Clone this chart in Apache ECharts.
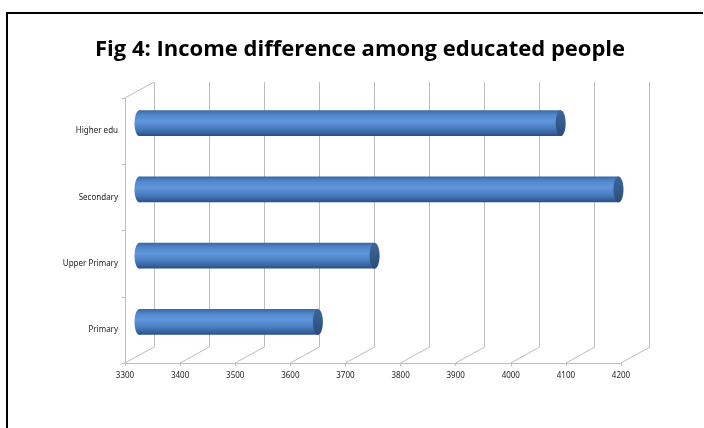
<!DOCTYPE html>
<html>
<head>
<meta charset="utf-8">
<script src="https://cdn.jsdelivr.net/npm/echarts@6/dist/echarts.min.js"></script>
<style>
html,body{margin:0;padding:0;background:#fff;}
#c{width:704px;height:428px;}
</style>
</head>
<body>
<div id="c"></div>
<script>
const titleText = 'Fig 4: Income difference among educated people';
const categories = ['Primary', 'Upper Primary', 'Secondary', 'Higher edu'];
const incomes = [3624, 3727, 4170, 4065];
const xTicks = [3300, 3400, 3500, 3600, 3700, 3800, 3900, 4000, 4100, 4200];
const xMin = 3300, xMax = 4200, xStep = 100;

const DX = 29, DY = -16; // depth offset of the 3D box
const GRID_H = 265;

const chart = echarts.init(document.getElementById('c'), null, {renderer: 'canvas'});

const bodyGrad = () => new echarts.graphic.LinearGradient(0, 0, 0, 1, [
  {offset: 0, color: '#3a67a3'},
  {offset: 0.18, color: '#5086ca'},
  {offset: 0.42, color: '#6097dc'},
  {offset: 0.7, color: '#4a7dc0'},
  {offset: 0.9, color: '#35619b'},
  {offset: 1, color: '#2b4f80'}
]);
const capGrad = () => new echarts.graphic.LinearGradient(0, 0, 0, 1, [
  {offset: 0, color: '#3c6499'},
  {offset: 0.5, color: '#345b8d'},
  {offset: 1, color: '#2a4b78'}
]);

const option = {
  animation: false,
  backgroundColor: '#fff',
  title: {
    text: titleText,
    left: 90,
    top: 34,
    textStyle: {fontFamily: 'Open Sans', fontWeight: 'bold', fontSize: 22, color: '#000'}
  },
  graphic: [
    {type: 'polyline', shape: {points: [[7, 428], [7, 13], [703, 13]]},
     style: {stroke: '#000', lineWidth: 2, fill: null}}
  ],
  grid: [
    {left: 154, top: 82, width: 495, height: GRID_H},      // back plane
    {left: 139.5, top: 90, width: 495.5, height: GRID_H},  // mid depth (bars)
    {left: 125, top: 98, width: 496, height: GRID_H}       // front plane
  ],
  xAxis: [
    {gridIndex: 0, type: 'value', min: xMin, max: xMax, interval: xStep,
     axisLine: {show: false}, axisTick: {show: false}, axisLabel: {show: false},
     splitLine: {show: true, lineStyle: {color: '#bdbdbd', width: 1}}},
    {gridIndex: 1, type: 'value', min: xMin, max: xMax, interval: xStep, show: false},
    {gridIndex: 2, type: 'value', min: xMin, max: xMax, interval: xStep,
     axisLine: {show: true, lineStyle: {color: '#bdbdbd'}},
     axisTick: {show: true, length: 3, lineStyle: {color: '#bdbdbd'}},
     axisLabel: {show: true, fontSize: 8, color: '#222', margin: 9, fontFamily: 'Noto Sans',
                 formatter: v => String(v)},
     splitLine: {show: false}}
  ],
  yAxis: [
    {gridIndex: 0, type: 'category', data: categories, show: false},
    {gridIndex: 1, type: 'category', data: categories, show: false},
    {gridIndex: 2, type: 'category', data: categories,
     axisLine: {show: true, lineStyle: {color: '#bdbdbd'}},
     axisTick: {show: true, length: 3, lineStyle: {color: '#bdbdbd'}},
     axisLabel: {show: true, fontSize: 8, color: '#222', margin: 7, fontFamily: 'Noto Sans'},
     splitLine: {show: false}}
  ],
  series: [
    {
      type: 'custom',
      name: 'depth',
      xAxisIndex: 2, yAxisIndex: 2,
      silent: true,
      data: xTicks.map(v => [v]),
      encode: {x: 0},
      renderItem: function (params, api) {
        const cs = params.coordSys;
        const v = api.value(0);
        const x = api.coord([v, 0])[0];
        const yb = cs.y + cs.height;
        const children = [{
          type: 'line',
          shape: {x1: x, y1: yb, x2: x + DX, y2: yb + DY},
          style: {stroke: '#bdbdbd', lineWidth: 1}
        }];
        if (params.dataIndex === 0) {
          children.push({
            type: 'line',
            shape: {x1: cs.x, y1: cs.y, x2: cs.x + DX, y2: cs.y + DY},
            style: {stroke: '#bdbdbd', lineWidth: 1}
          });
        }
        return {type: 'group', children: children};
      },
      z: 1
    },
    {
      type: 'custom',
      name: 'Income',
      xAxisIndex: 1, yAxisIndex: 1,
      data: incomes.map((v, i) => [v, i]),
      encode: {x: 0, y: 1},
      renderItem: function (params, api) {
        const v = api.value(0);
        const c = api.value(1);
        const s = api.coord([xMin, c]);
        const e = api.coord([v, c]);
        const band = api.size([0, 1])[1];
        const h = band * 0.39;
        const rx = 5;
        const top = s[1] - h / 2;
        return {
          type: 'group',
          children: [
            {type: 'ellipse', shape: {cx: s[0], cy: s[1], rx: rx, ry: h / 2},
             style: {fill: bodyGrad()}},
            {type: 'rect', shape: {x: s[0], y: top, width: e[0] - s[0], height: h},
             style: {fill: bodyGrad()}},
            {type: 'ellipse', shape: {cx: e[0], cy: e[1], rx: rx, ry: h / 2},
             style: {fill: capGrad()}}
          ]
        };
      },
      z: 5
    }
  ]
};
chart.setOption(option);
</script>
</body>
</html>
